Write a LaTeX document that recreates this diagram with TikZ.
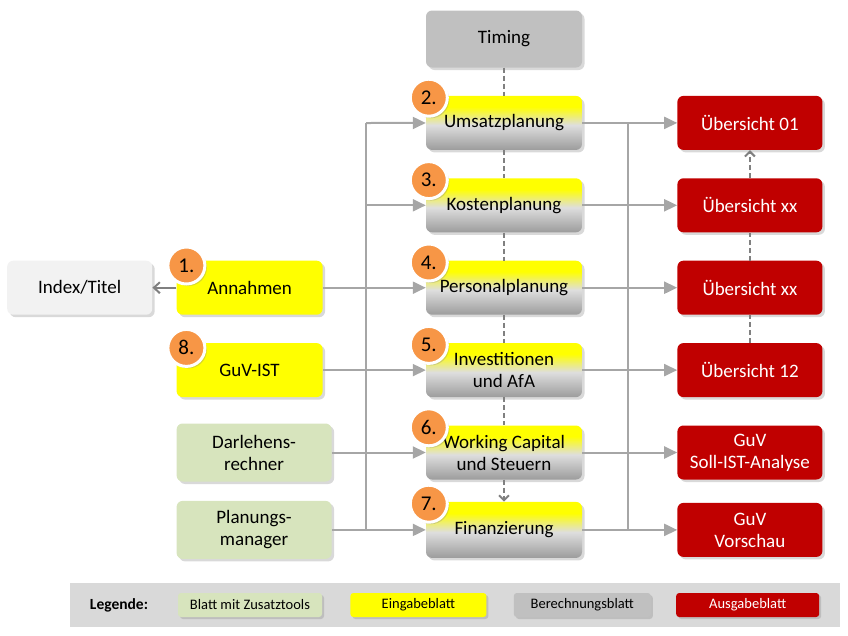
\documentclass[tikz,border=0pt]{standalone}
\usepackage{fontspec}
\setmainfont{Carlito}
\usetikzlibrary{positioning,arrows.meta,shadows}

\definecolor{inyellow}{HTML}{FFFF00}
\definecolor{calcgray}{HTML}{C0C0C0}
\definecolor{toolgreen}{HTML}{D7E4BD}
\definecolor{outred}{HTML}{C00000}
\definecolor{badgeorange}{HTML}{F79646}
\definecolor{indexgray}{HTML}{F2F2F2}
\definecolor{legendgray}{HTML}{D9D9D9}
\definecolor{flowgray}{HTML}{A6A6A6}
\definecolor{depgray}{HTML}{808080}
\definecolor{shadebot}{HTML}{9C9C9C}
\definecolor{shademid}{HTML}{DEDEDE}

\pgfdeclareverticalshading{calcshade}{100bp}{color(0bp)=(shadebot); color(25bp)=(shadebot); color(48bp)=(shademid); color(65bp)=(inyellow); color(75bp)=(inyellow); color(100bp)=(inyellow)}

\begin{document}
\begin{tikzpicture}[x=1pt, y=-1pt,
	box/.style = {rounded corners=6pt, minimum width=156pt, minimum height=54pt, align=center, inner sep=2pt, font=\fontsize{19}{22}\selectfont, drop shadow={shadow xshift=2.5pt, shadow yshift=-2.5pt, opacity=0.3}},
	calc/.style = {box, shade, shading=calcshade},
	plain/.style = {box, fill=calcgray},
	input/.style = {box, fill=inyellow, minimum width=146pt},
	tool/.style = {box, fill=toolgreen, minimum width=155pt, minimum height=58pt},
	output/.style = {box, fill=outred, text=white, minimum width=145pt},
	badge/.style = {circle, fill=badgeorange, draw=white, line width=3pt, minimum size=37pt, inner sep=0pt, font=\fontsize{21}{24}\selectfont, drop shadow={shadow xshift=2pt, shadow yshift=-2pt, opacity=0.3}},
	legbox/.style = {rounded corners=3pt, minimum height=24pt, inner sep=1pt, font=\fontsize{14.5}{16}\selectfont, drop shadow={shadow xshift=2pt, shadow yshift=-2pt, opacity=0.3}},
	flow/.style = {draw=flowgray, line width=2pt, -{Triangle[length=13pt,width=12pt]}},
	bus/.style = {draw=flowgray, line width=2pt},
	dep/.style = {draw=depgray, line width=2pt, dash pattern=on 5pt off 3pt},
	deparrow/.style = {dep, -{Straight Barb[length=5pt,width=10pt]}},
	idx/.style = {draw=depgray, line width=2pt, -{Straight Barb[length=6pt,width=11pt]}}]
	\useasboundingbox (0,0) rectangle (848,635);

	\node[plain, minimum height=57pt] (timing) at (504,39) {Timing};
	\node[calc, below=28pt of timing] (umsatz) {Umsatzplanung};
	\node[calc, below=28pt of umsatz] (kosten) {Kostenplanung};
	\node[calc, below=28pt of kosten] (personal) {Personalplanung};
	\node[calc, below=28pt of personal] (invest) {Investitionen\\und AfA};
	\node[calc, below=28pt of invest] (working) {Working Capital\\und Steuern};
	\node[calc, minimum height=56pt, below=22pt of working] (finanz) {Finanzierung};

	\node[output, right=95pt of umsatz] (ueb01) {Übersicht 01};
	\node[output, right=95pt of kosten] (uebxxa) {Übersicht xx};
	\node[output, right=95pt of personal] (uebxxb) {Übersicht xx};
	\node[output, right=95pt of invest] (ueb12) {Übersicht 12};
	\node[output, right=95pt of working] (guvsoll) {GuV\\Soll-IST-Analyse};
	\node[output, right=95pt of finanz] (guvvor) {GuV\\Vorschau};

	\node[input, left=103pt of personal] (annahmen) {Annahmen};
	\node[input, left=103pt of invest] (guvist) {GuV-IST};
	\node[tool, left=94pt of working] (darlehen) {Darlehens-\\rechner};
	\node[tool, left=94pt of finanz] (planung) {Planungs-\\manager};
	\node[box, fill=indexgray, minimum width=145pt, left=24pt of annahmen] (index) {Index/Titel};

	\coordinate (lt) at (366,123);
	\coordinate (rt) at (628,123);

	\draw[bus] (lt) -- (lt |- finanz);
	\draw[flow] (lt) -- (umsatz);
	\draw[flow] (lt |- kosten) -- (kosten);
	\draw[flow] (annahmen) -- (personal);
	\draw[flow] (guvist) -- (invest);
	\draw[flow] (darlehen) -- (working);
	\draw[flow] (planung) -- (finanz);
	\draw[idx] (annahmen) -- (index);

	\draw[bus] (rt) -- (rt |- finanz);
	\draw[flow] (umsatz) -- (ueb01);
	\draw[flow] (kosten) -- (uebxxa);
	\draw[flow] (personal) -- (uebxxb);
	\draw[flow] (invest) -- (ueb12);
	\draw[flow] (working) -- (guvsoll);
	\draw[flow] (finanz) -- (guvvor);

	\draw[dep] (timing) -- (umsatz);
	\draw[dep] (umsatz) -- (kosten);
	\draw[dep] (kosten) -- (personal);
	\draw[dep] (personal) -- (invest);
	\draw[dep] (invest) -- (working);
	\draw[deparrow] (working) -- (finanz);
	\draw[dep] (ueb12) -- (uebxxb);
	\draw[dep] (uebxxb) -- (uebxxa);
	\draw[deparrow] (uebxxa) -- (ueb01);

	\node[badge] (b1) at ([shift={(10pt,-5pt)}]annahmen.north west) {1.};
	\node[badge] (b2) at ([shift={(3pt,-2pt)}]umsatz.north west) {2.};
	\node[badge] (b3) at ([shift={(3pt,-2pt)}]kosten.north west) {3.};
	\node[badge] (b4) at ([shift={(3pt,-2pt)}]personal.north west) {4.};
	\node[badge] (b5) at ([shift={(3pt,-2pt)}]invest.north west) {5.};
	\node[badge] (b6) at ([shift={(3pt,-2pt)}]working.north west) {6.};
	\node[badge] (b7) at ([shift={(3pt,-2pt)}]finanz.north west) {7.};
	\node[badge] (b8) at ([shift={(10pt,-5pt)}]guvist.north west) {8.};

	\fill[legendgray] (70,583) rectangle (840,627);
	\node[font=\bfseries\fontsize{15.5}{18}\selectfont] (legende) at (119,605) {Legende:};
	\node[legbox, fill=toolgreen, minimum width=144pt] (lg1) at (250,605) {Blatt mit Zusatztools};
	\node[legbox, fill=inyellow, minimum width=136pt, right=28pt of lg1] (lg2) {Eingabeblatt};
	\node[legbox, fill=calcgray, minimum width=137pt, right=27pt of lg2] (lg3) {Berechnungsblatt};
	\node[legbox, fill=outred, text=white, minimum width=143pt, right=25pt of lg3] (lg4) {Ausgabeblatt};
\end{tikzpicture}
\end{document}
